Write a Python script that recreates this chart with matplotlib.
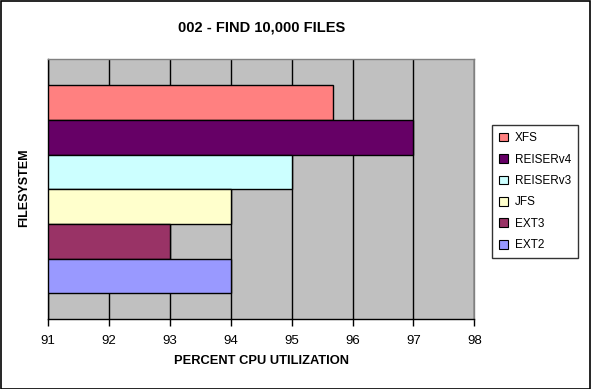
import numpy as np
import matplotlib
matplotlib.use("Agg")
import matplotlib.pyplot as plt
from matplotlib.patches import Patch

plt.rcParams['font.family'] = ['Liberation Sans', 'DejaVu Sans']

filesystems = ['XFS', 'REISERv4', 'REISERv3', 'JFS', 'EXT3', 'EXT2']
cpu_util = [95.67, 97, 95, 94, 93, 94]
colors = ['#FF8080', '#660066', '#CCFFFF', '#FFFFCC', '#993366', '#9999FF']
xticks = [91, 92, 93, 94, 95, 96, 97, 98]

W, H = 591, 389
fig = plt.figure(figsize=(W / 100, H / 100), dpi=100)
fig.patch.set_facecolor('white')

# figure border
fig.add_artist(plt.Rectangle((0.5 / W, 0.5 / H), 1 - 1.5 / W, 1 - 1.5 / H,
                             transform=fig.transFigure, fill=False,
                             edgecolor='black', linewidth=1.2))

left, right, top, bottom = 48.3, 474.3, 59.3, 319.3
ax = fig.add_axes([left / W, 1 - bottom / H, (right - left) / W, (bottom - top) / H])
ax.set_facecolor('#C0C0C0')

# one category, six series, gap width 150%
n = len(filesystems)
w = 1.0 / (n + 1.5)
base = 91
for i, (fs, v, c) in enumerate(zip(filesystems, cpu_util, colors)):
    y = (n / 2 - 0.5 - i) * w
    ax.barh(y, v - base, height=w, left=base, color=c, edgecolor='black',
            linewidth=1.0, zorder=3)

ax.set_xlim(91, 98)
ax.set_ylim(-0.5, 0.5)
ax.set_xticks(xticks)
ax.set_xticklabels([str(t) for t in xticks], fontsize=9.5)
ax.set_yticks([])
ax.xaxis.grid(True, color='black', linewidth=1.0, zorder=0)
ax.set_axisbelow(True)
ax.tick_params(axis='x', direction='out', length=5, width=1, color='black', pad=6)

for s in ['top', 'right']:
    ax.spines[s].set_color('#808080')
    ax.spines[s].set_linewidth(1.0)
for s in ['left', 'bottom']:
    ax.spines[s].set_color('black')
    ax.spines[s].set_linewidth(1.0)

ax.set_xlabel('PERCENT CPU UTILIZATION', fontsize=9.3, fontweight='bold', va='center')
ax.xaxis.set_label_coords((261 - left) / (right - left), (bottom - 361) / (bottom - top))
ax.set_ylabel('FILESYSTEM', fontsize=9, fontweight='bold', va='center')
ax.yaxis.set_label_coords((24 - left) / (right - left), (bottom - 188) / (bottom - top))

fig.text(261.5 / W, 1 - 27 / H, '002 - FIND 10,000 FILES',
         ha='center', va='center', fontsize=10.5, fontweight='bold')

handles = [Patch(facecolor=c, edgecolor='black', linewidth=0.8, label=fs)
           for fs, c in zip(filesystems, colors)]
leg = fig.legend(handles=handles, loc='upper left',
                 bbox_to_anchor=(492 / W, 1 - 125 / H), fontsize=8.5,
                 frameon=True, fancybox=False, handlelength=0.75, handleheight=0.75,
                 handletextpad=0.6, labelspacing=0.8, borderpad=0.6,
                 borderaxespad=0)
leg.get_frame().set_edgecolor('black')
leg.get_frame().set_linewidth(1.0)

fig.savefig('out.png', dpi=100)
